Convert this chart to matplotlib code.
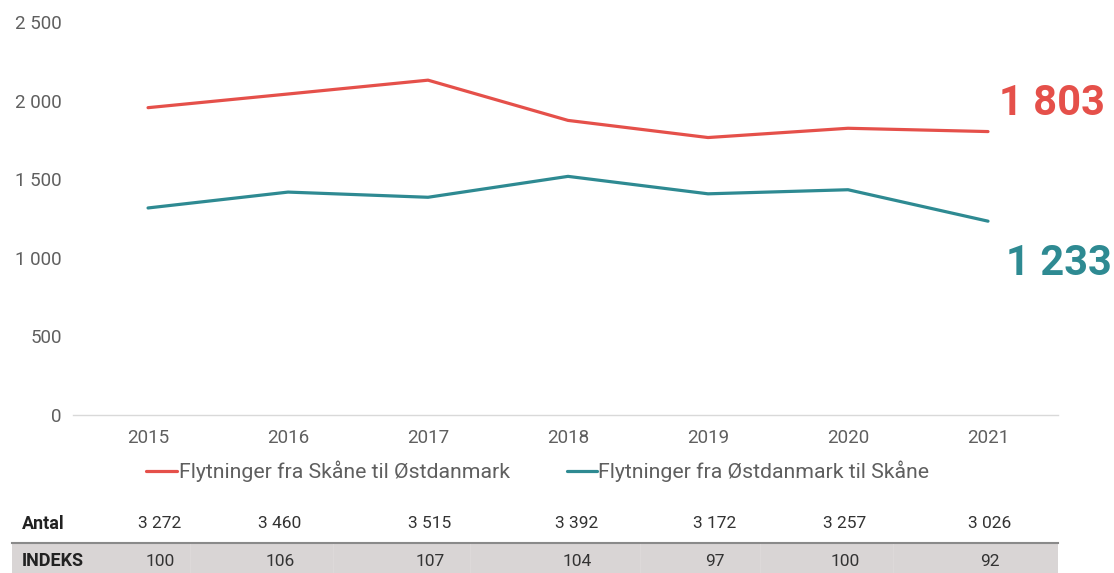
import matplotlib
matplotlib.use("Agg")
import matplotlib.pyplot as plt
from matplotlib.patches import Rectangle
from matplotlib.lines import Line2D

plt.rcParams['font.family'] = ['Roboto', 'DejaVu Sans']

years = ["2015", "2016", "2017", "2018", "2019", "2020", "2021"]
skane_to_ost = [1955, 2042, 2130, 1874, 1765, 1824, 1803]
ost_to_skane = [1317, 1418, 1385, 1518, 1407, 1433, 1233]
antal = ["3 272", "3 460", "3 515", "3 392", "3 172", "3 257", "3 026"]
indeks = ["100", "106", "107", "104", "97", "100", "92"]
label_red = "Flytninger fra Skåne til Østdanmark"
label_teal = "Flytninger fra Østdanmark til Skåne"
yticks = [0, 500, 1000, 1500, 2000, 2500]
ytick_labels = ["0", "500", "1 000", "1 500", "2 000", "2 500"]

RED = "#e5504a"
TEAL = "#2e8a92"
GRAY = "#5f5f5f"

W, H = 1114, 573
fig = plt.figure(figsize=(W / 100, H / 100), dpi=100)

def fx(px):
    return px / W

def fy(py):
    return 1 - py / H

ax_l, ax_r, ax_t, ax_b = 73, 1058, 22, 415
ax = fig.add_axes([fx(ax_l), fy(ax_b), fx(ax_r - ax_l), (ax_b - ax_t) / H])
x = list(range(len(years)))
ax.plot(x, skane_to_ost, color=RED, lw=2.3, solid_capstyle='round')
ax.plot(x, ost_to_skane, color=TEAL, lw=2.3, solid_capstyle='round')
ax.set_xlim(-0.536, 6.5)
ax.set_ylim(0, 2500)
ax.set_yticks(yticks)
ax.set_yticklabels(ytick_labels)
ax.set_xticks(x)
ax.set_xticklabels(years)
for s in ["top", "right", "left"]:
    ax.spines[s].set_visible(False)
ax.spines["bottom"].set_color("#d9d9d9")
ax.spines["bottom"].set_linewidth(1)
ax.tick_params(axis='both', length=0, labelsize=13.5, colors=GRAY)
ax.tick_params(axis='y', pad=8)
ax.tick_params(axis='x', pad=10)
ax.patch.set_alpha(0)

ax.annotate(f"{skane_to_ost[-1]:,}".replace(",", " "), xy=(x[-1], skane_to_ost[-1]),
            xytext=(fx(1105), fy(103)), textcoords='figure fraction',
            ha='right', va='center', fontsize=30, fontweight='bold', color=RED)
ax.annotate(f"{ost_to_skane[-1]:,}".replace(",", " "), xy=(x[-1], ost_to_skane[-1]),
            xytext=(fx(1112), fy(263)), textcoords='figure fraction',
            ha='right', va='center', fontsize=30, fontweight='bold', color=TEAL)

# legend
fig.add_artist(Line2D([fx(146), fx(177)], [fy(471), fy(471)], color=RED, lw=2.3,
                      solid_capstyle='round'))
fig.text(fx(179), fy(471), label_red, fontsize=15.3, color=GRAY, va='center', ha='left')
fig.add_artist(Line2D([fx(567), fx(597)], [fy(471), fy(471)], color=TEAL, lw=2.3,
                      solid_capstyle='round'))
fig.text(fx(598), fy(471), label_teal, fontsize=15.3, color=GRAY, va='center', ha='left')

# table
col_x = [160, 280, 430, 577, 715, 845, 990]
fig.add_artist(Rectangle((fx(12), 0), fx(1058 - 12), fy(543), color="#d9d5d5", lw=0))
fig.add_artist(Line2D([fx(12), fx(1058)], [fy(543), fy(543)], color="#8a8a8a", lw=1.5))
for sx in [190, 333, 470, 640, 760, 893]:
    fig.add_artist(Line2D([fx(sx), fx(sx)], [fy(544), 0], color="#dedada", lw=0.6))
fig.text(fx(22), fy(524), "Antal", fontsize=13, fontweight='bold', color="#222222",
         va='center', ha='left')
fig.text(fx(22), fy(561), "INDEKS", fontsize=13, fontweight='bold', color="#222222",
         va='center', ha='left')
for cx, a, i in zip(col_x, antal, indeks):
    fig.text(fx(cx), fy(524), a, fontsize=12.5, color="#333333", va='center', ha='center')
    fig.text(fx(cx), fy(561), i, fontsize=12.5, color="#333333", va='center', ha='center')

fig.savefig("out.png", dpi=100)
